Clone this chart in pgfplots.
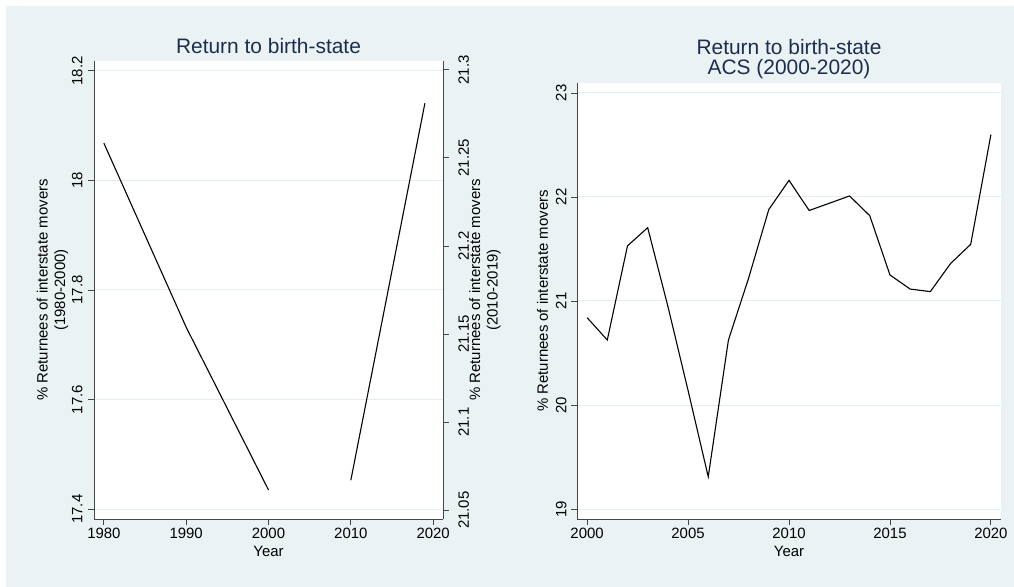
\documentclass[border=0pt]{standalone}
\usepackage{fontspec}
\setmainfont{Liberation Sans}
\usepackage{pgfplots}
\pgfplotsset{compat=1.18}

\definecolor{panelbg}{RGB}{234,242,243}
\definecolor{titlenavy}{RGB}{28,45,80}
\definecolor{axisgray}{RGB}{70,70,70}
\definecolor{gridcol}{RGB}{228,238,240}

\pgfplotsset{
  stata/.style={
    scale only axis,
    axis line style={axisgray, line width=0.9bp, -},
    tick style={axisgray, line width=0.9bp},
    major tick length=6bp,
    tick align=outside,
    /pgf/number format/assume math mode=true,
    tick label style={font=\fontsize{15}{18}\selectfont, text=black},
    label style={font=\fontsize{15}{17.5}\selectfont, align=center},
    grid style={gridcol, line width=1bp},
  },
  % rotated labels: local +y points to the left of the page
  statatitle/.style={
    title style={font=\fontsize{21}{20.5}\selectfont, text=titlenavy, align=center,
      at={(axis description cs:0.5,1)}, anchor=north, inner sep=0pt, yshift=#1},
  },
}

\begin{document}
\begin{tikzpicture}
\useasboundingbox (0,0) rectangle (1014bp,587bp);
\fill[white] (0,0) rectangle (1014bp,587bp);
\fill[panelbg] (6bp,0) rectangle (1014bp,581bp);

% Left panel: decennial census series (left axis)
\begin{axis}[stata, statatitle=17bp,
  at={(94bp,68bp)}, anchor=south west, width=349bp, height=458bp,
  axis background/.style={fill=white},
  xmin=1978.8, xmax=2021.2, ymin=17.382, ymax=18.218,
  axis x line*=bottom, axis y line*=left,
  ymajorgrids,
  xtick={1980,1990,2000,2010,2020}, xticklabels={1980,1990,2000,2010,2020},
  ytick={17.4,17.6,17.8,18,18.2}, yticklabels={17.4,17.6,17.8,18,18.2},
  yticklabel style={rotate=90, anchor=south, yshift=2bp},
  title={Return to birth-state},
  xlabel={Year},
  xlabel style={at={(axis description cs:0.5,0)}, anchor=center, yshift=-32bp},
  ylabel={\% Returnees of interstate movers\\(1980-2000)},
  ylabel style={at={(axis description cs:0,0.5)}, anchor=center, yshift=41.5bp},
]
\addplot[black, line width=1.1bp] coordinates {(1980,18.068) (1990,17.732) (2000,17.435)};
\end{axis}

% Left panel: 2010-2019 series (right axis)
\begin{axis}[stata,
  at={(94bp,68bp)}, anchor=south west, width=349bp, height=458bp,
  xmin=1978.8, xmax=2021.2, ymin=21.045, ymax=21.305,
  axis x line=none, axis y line*=right,
  ytick={21.05,21.1,21.15,21.2,21.25,21.3},
  yticklabels={21.05,21.1,21.15,21.2,21.25,21.3},
  yticklabel style={rotate=90, anchor=north, yshift=-6bp},
  ylabel={\% Returnees of interstate movers\\(2010-2019)},
  ylabel style={at={(axis description cs:1,0.5)}, anchor=center, yshift=-42bp},
]
\addplot[black, line width=1.1bp] coordinates {(2010,21.067) (2019,21.281)};
\end{axis}

% Right panel: ACS yearly series
\begin{axis}[stata, statatitle=38bp,
  at={(577bp,68bp)}, anchor=south west, width=424bp, height=436bp,
  axis background/.style={fill=white},
  xmin=1999.5, xmax=2020.5, ymin=18.904, ymax=23.096,
  axis x line*=bottom, axis y line*=left,
  ymajorgrids,
  xtick={2000,2005,2010,2015,2020}, xticklabels={2000,2005,2010,2015,2020},
  ytick={19,20,21,22,23}, yticklabels={19,20,21,22,23},
  yticklabel style={rotate=90, anchor=south, yshift=1bp},
  title={Return to birth-state\\ACS (2000-2020)},
  xlabel={Year},
  xlabel style={at={(axis description cs:0.5,0)}, anchor=center, yshift=-32bp},
  ylabel={\% Returnees of interstate movers},
  ylabel style={at={(axis description cs:0,0.5)}, anchor=center, yshift=34.5bp},
]
\addplot[black, line width=1.1bp] coordinates {
  (2000,20.84) (2001,20.625) (2002,21.53) (2003,21.705) (2004,20.95)
  (2005,20.14) (2006,19.31) (2007,20.625) (2008,21.22) (2009,21.88)
  (2010,22.16) (2011,21.87) (2012,21.94) (2013,22.01) (2014,21.82)
  (2015,21.25) (2016,21.115) (2017,21.09) (2018,21.36) (2019,21.545)
  (2020,22.6)};
\end{axis}
\end{tikzpicture}
\end{document}
